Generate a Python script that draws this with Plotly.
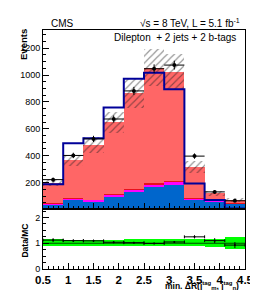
import numpy as np
import plotly.graph_objects as go
from plotly.subplots import make_subplots

# ---- data ----
bin_edges = [0.5, 0.9, 1.3, 1.7, 2.1, 2.5, 2.9, 3.3, 3.7, 4.1, 4.5]
data_counts = [222, 402, 525, 673, 882, 1047, 1074, 397, 131, 65]
bkg_blue = [36, 72, 60, 100, 128, 168, 185, 75, 63, 43]
bkg_magenta = [8, 10, 12, 14, 18, 17, 22, 6, 6, 4]
bkg_red = [2, 2, 2, 3, 3, 12, 4, 2, 2, 2]
mc_total = [198, 365, 480, 648, 864, 1054, 1024, 318, 119, 70]
signal_outline = [188, 493, 530, 759, 973, 1017, 894, 193, 70, 8]
rel_unc = [0.13, 0.12, 0.12, 0.12, 0.13, 0.13, 0.13, 0.14, 0.15, 0.24]
x_ticks = [0.5, 1, 1.5, 2, 2.5, 3, 3.5, 4, 4.5]
x_ticklabels = ["0.5", "1", "1.5", "2", "2.5", "3", "3.5", "4", "4.5"]

edges = np.array(bin_edges)
centers = 0.5 * (edges[:-1] + edges[1:])
widths = np.diff(edges)
half = widths / 2
d = np.array(data_counts, float)
b1 = np.array(bkg_blue, float)
b2 = np.array(bkg_magenta, float)
b3 = np.array(bkg_red, float)
mc = np.array(mc_total, float)
b4 = mc - b1 - b2 - b3
unc = np.array(rel_unc)

fig = make_subplots(rows=2, cols=1, shared_xaxes=True, vertical_spacing=0,
                    row_heights=[0.751, 0.249])

SALMON = "#FF6666"
BLUE = "#0066CC"
MAG = "#FF00FF"
RED = "#E8101C"
NAVY = "#000099"

base = np.zeros_like(mc)
for vals, col in [(b1, BLUE), (b2, MAG), (b3, RED), (b4, SALMON)]:
    fig.add_trace(go.Bar(x=centers, y=vals, base=base.copy(), width=widths,
                         marker=dict(color=col, line=dict(width=0)),
                         showlegend=False, hoverinfo="skip"), row=1, col=1)
    base = base + vals

# hatched MC uncertainty
fig.add_trace(go.Bar(x=centers, y=2 * mc * unc, base=mc * (1 - unc), width=widths,
                     marker=dict(color="rgba(0,0,0,0)", line=dict(width=0),
                                 pattern=dict(shape="/", fgcolor="#222222",
                                              bgcolor="rgba(0,0,0,0)",
                                              size=5, solidity=0.22)),
                     showlegend=False, hoverinfo="skip"), row=1, col=1)

# outline histogram
fig.add_trace(go.Scatter(x=edges, y=list(signal_outline) + [signal_outline[-1]],
                         mode="lines", line=dict(color=NAVY, width=2, shape="hv"),
                         showlegend=False, hoverinfo="skip"), row=1, col=1)

# data
fig.add_trace(go.Scatter(x=centers, y=d, mode="markers",
                         marker=dict(color="black", size=4),
                         error_y=dict(type="data", array=np.sqrt(d), color="black",
                                      thickness=1, width=0),
                         error_x=dict(type="data", array=half, color="black",
                                      thickness=1, width=0),
                         showlegend=False), row=1, col=1)

# ratio panel
fig.add_trace(go.Bar(x=centers, y=2 * unc, base=1 - unc, width=widths,
                     marker=dict(color="#00FF00", line=dict(width=0)),
                     showlegend=False, hoverinfo="skip"), row=2, col=1)
fig.add_trace(go.Scatter(x=edges, y=[1] * len(edges), mode="lines",
                         line=dict(color="#004400", width=1.2, shape="hv"),
                         showlegend=False, hoverinfo="skip"), row=2, col=1)
ratio = d / mc
ratio_err = np.sqrt(d) / mc
fig.add_trace(go.Scatter(x=centers, y=ratio, mode="markers",
                         marker=dict(color="black", size=2),
                         error_y=dict(type="data", array=ratio_err, color="black",
                                      thickness=1, width=0),
                         error_x=dict(type="data", array=half, color="black",
                                      thickness=1, width=1.5),
                         showlegend=False), row=2, col=1)

FONT = "Liberation Sans, Arial, sans-serif"
fig.update_layout(
    width=258, height=290, autosize=False,
    margin=dict(l=28, r=13, t=22, b=27),
    paper_bgcolor="white", plot_bgcolor="white",
    barmode="overlay", bargap=0,
    font=dict(family=FONT, color="black"),
)
axis_common = dict(showline=True, linecolor="black", linewidth=1, mirror=True,
                   showgrid=False, zeroline=False)
fig.update_xaxes(range=[0.5, 4.5], tickvals=x_ticks, ticks="inside", ticklen=6,
                 tickcolor="black",
                 minor=dict(dtick=0.1, tick0=0.5, ticks="inside", ticklen=3, tickcolor="black"),
                 **axis_common)
fig.update_xaxes(showticklabels=False, row=1, col=1)
fig.update_xaxes(ticktext=x_ticklabels, showticklabels=True,
                 tickfont=dict(size=11.5, family=FONT, weight="bold"), row=2, col=1)
fig.update_yaxes(range=[0, 1335], dtick=200, ticks="inside", ticklen=6, tickcolor="black",
                 minor=dict(dtick=50, ticks="inside", ticklen=3, tickcolor="black"),
                 tickfont=dict(size=9), tickvals=[200, 400, 600, 800, 1000, 1200],
                 **axis_common, row=1, col=1)
fig.update_yaxes(range=[0, 2.31], tickvals=[0, 1, 2], ticks="inside", ticklen=6,
                 tickcolor="black",
                 minor=dict(dtick=0.25, ticks="inside", ticklen=3, tickcolor="black"),
                 tickfont=dict(size=9), **axis_common, row=2, col=1)

def px(xp, yp):
    return (xp - 28) / 217.0, (263 - yp) / 241.0

ann = []
def add(xp, yp, text, size, xanchor="left", yanchor="middle", angle=0):
    x, y = px(xp, yp)
    ann.append(dict(x=x, y=y, text=text, xanchor=xanchor, yanchor=yanchor,
                    textangle=angle, font=dict(size=size), xref="paper",
                    yref="paper", showarrow=False, borderpad=0))

add(35, 15, "CMS", 10)
add(241, 15, "√s = 8 TeV, L = 5.1 fb<sup>-1</sup>", 10, xanchor="right")
add(236, 30, "Dilepton  + 2 jets + 2 b-tags", 10, xanchor="right")
add(7, 20, "<b>Events</b>", 9.5, xanchor="center", yanchor="top", angle=-90)
add(9, 234, "<b>Data/MC</b>", 8.5, xanchor="center", angle=-90)
add(240, 286, "<b>min. ΔR(j<sup>tag</sup><sub>m</sub>, j<sup>tag</sup><sub>n</sub>)</b>",
    8.5, xanchor="right", yanchor="bottom")
fig.update_layout(annotations=ann)

fig.write_html("out.html")
